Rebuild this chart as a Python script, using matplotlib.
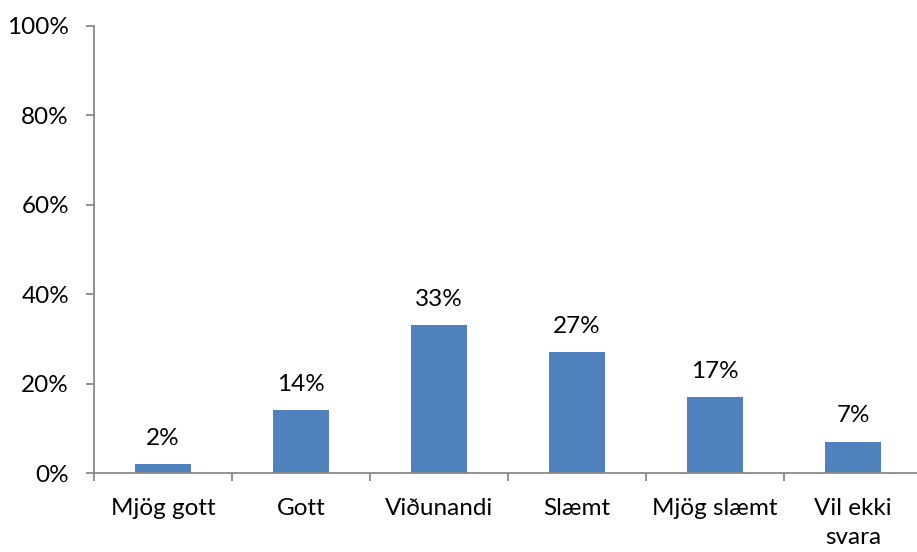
import matplotlib.pyplot as plt
from matplotlib.ticker import PercentFormatter

# survey answers and share of respondents (%)
categories = ['Mjög gott', 'Gott', 'Viðunandi', 'Slæmt', 'Mjög slæmt', 'Vil ekki\nsvara']
shares = [2, 14, 33, 27, 17, 7]
y_ticks = [0, 20, 40, 60, 80, 100]

plt.rcParams['font.family'] = ['Lato', 'DejaVu Sans']
plt.rcParams['font.size'] = 17.5

fig = plt.figure(figsize=(9.17, 5.52), dpi=100)
ax = fig.add_axes([0.1025, 0.1431, 0.9030, 0.8098])

x = range(len(categories))
bars = ax.bar(x, shares, width=0.4, color='#4F81BD')

for rect, v in zip(bars, shares):
    ax.annotate(f'{v}%', (rect.get_x() + rect.get_width() / 2, v),
                xytext=(0, 11), textcoords='offset points',
                ha='center', va='bottom')

ax.set_xlim(-0.5, len(categories) - 0.5)
ax.set_ylim(0, 100)
ax.set_yticks(y_ticks)
ax.yaxis.set_major_formatter(PercentFormatter(decimals=0))

# category labels sit between the boundary ticks
ax.set_xticks([i + 0.5 for i in range(-1, len(categories))])
ax.set_xticklabels([])
ax.set_xticks(list(x), minor=True)
ax.set_xticklabels(categories, minor=True, linespacing=1.45)
ax.tick_params(axis='x', which='minor', length=0, pad=18)
ax.tick_params(axis='x', which='major', length=6, width=1.3, color='#898989')
ax.tick_params(axis='y', length=6, width=1.3, color='#898989', pad=12)

for side in ['top', 'right']:
    ax.spines[side].set_visible(False)
for side in ['left', 'bottom']:
    ax.spines[side].set_color('#898989')
    ax.spines[side].set_linewidth(1.3)

fig.savefig('out.png', dpi=100)
